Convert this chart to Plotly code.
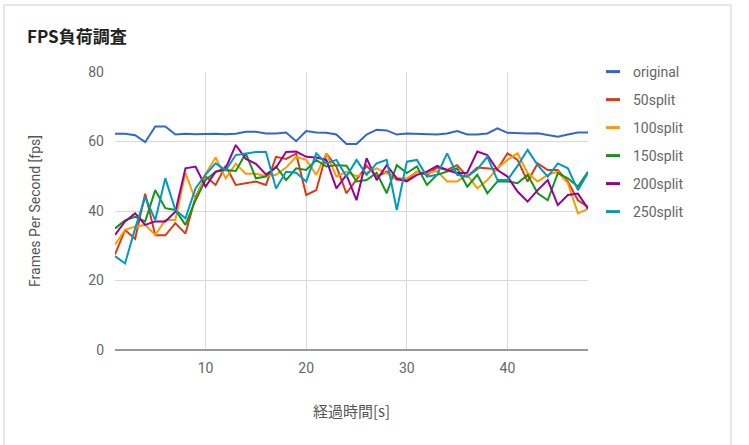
import plotly.graph_objects as go

W, H = 749, 445
ML, MR, MT, MB = 115, 161, 72, 95

x_seconds = list(range(1, 49))

original = [62.2, 62.2, 61.8, 59.8, 64.3, 64.3, 62.0, 62.2, 62.1, 62.2, 62.2, 62.1,
            62.2, 62.8, 62.8, 62.3, 62.3, 62.6, 60.1, 63.0, 62.6, 62.5, 62.0, 59.3,
            59.3, 62.0, 63.4, 63.2, 62.0, 62.3, 62.2, 62.0, 62.0, 62.3, 63.0, 62.0,
            62.0, 62.3, 63.8, 62.5, 62.3, 62.3, 62.4, 62.0, 61.4, 62.0, 62.6, 62.6]
split50 = [27.5, 34.5, 32.0, 45.0, 33.0, 33.0, 36.5, 33.5, 44.0, 50.0, 47.5, 53.0,
           47.5, 48.0, 48.5, 47.5, 55.6, 55.0, 56.5, 44.6, 46.0, 56.5, 52.8, 45.1,
           49.0, 53.0, 49.9, 51.3, 49.0, 48.9, 51.3, 50.4, 52.5, 51.8, 53.2, 49.9,
           52.5, 52.3, 52.0, 56.6, 54.7, 48.5, 53.7, 51.8, 51.8, 48.5, 43.1, 41.2]
split100 = [30.3, 34.6, 35.5, 36.0, 33.1, 37.4, 37.4, 51.0, 43.1, 50.7, 55.4, 49.4,
            53.6, 50.7, 50.7, 50.0, 50.4, 52.5, 55.6, 54.7, 50.4, 56.6, 49.9, 51.3,
            50.0, 51.0, 52.3, 50.9, 49.4, 49.4, 51.3, 50.9, 51.5, 48.5, 48.5, 50.4,
            46.5, 48.9, 52.3, 54.7, 56.6, 50.9, 48.5, 50.4, 51.3, 48.0, 39.3, 40.7]
split150 = [35.0, 37.3, 38.3, 37.0, 46.0, 40.8, 40.3, 36.0, 43.1, 48.9, 51.3, 51.8,
            51.5, 56.6, 49.4, 49.9, 52.8, 48.9, 52.3, 51.8, 54.7, 52.8, 53.2, 53.0,
            48.5, 48.9, 51.0, 45.1, 53.2, 50.9, 52.8, 47.5, 50.4, 51.3, 52.3, 47.0,
            50.4, 45.1, 48.5, 48.5, 48.0, 50.4, 45.1, 43.1, 50.9, 49.4, 47.0, 51.3]
split200 = [33.1, 37.0, 39.3, 36.0, 37.0, 37.0, 39.8, 52.3, 52.8, 47.0, 51.3, 52.3,
            59.0, 55.0, 53.6, 50.5, 52.5, 57.0, 57.1, 55.6, 55.4, 54.7, 46.5, 50.4,
            43.1, 55.2, 48.9, 53.2, 49.4, 48.5, 50.4, 51.3, 53.0, 51.8, 50.9, 51.0,
            57.1, 56.1, 51.8, 49.9, 45.6, 42.7, 46.0, 48.9, 41.7, 44.6, 45.0, 40.7]
split250 = [27.0, 24.9, 35.0, 44.0, 37.4, 49.4, 40.3, 37.9, 46.5, 50.5, 53.7, 51.8,
            56.1, 56.6, 57.0, 57.0, 46.5, 51.3, 51.0, 48.5, 56.6, 53.7, 54.7, 49.9,
            54.7, 50.4, 53.7, 54.7, 40.3, 54.2, 54.7, 49.9, 50.4, 56.6, 50.4, 49.9,
            52.0, 55.6, 48.9, 48.9, 53.0, 57.6, 53.2, 49.9, 53.7, 52.3, 46.0, 51.0]

series_names = ["original", "50split", "100split", "150split", "200split", "250split"]
series_values = [original, split50, split100, split150, split200, split250]
colors = ["#3366cc", "#dc3912", "#ff9900", "#109618", "#990099", "#0099c6"]

y_ticks = [0, 20, 40, 60, 80]
x_ticks = [10, 20, 30, 40]

fig = go.Figure()
for name, vals, c in zip(series_names, series_values, colors):
    fig.add_trace(go.Scatter(x=x_seconds, y=vals, mode="lines", name=name,
                             line=dict(color=c, width=2), showlegend=False))
# legend entries with short dash markers
for name, c in zip(series_names, colors):
    fig.add_trace(go.Scatter(x=[None], y=[None], mode="markers", name=name,
                             legendgroup=name,
                             marker=dict(symbol="line-ew", size=10,
                                         line=dict(color=c, width=3))))

pw = W - ML - MR
ph = H - MT - MB
def px(xp):
    return (xp - ML) / pw
def py(yp):
    return (H - MB - yp) / ph

fig.add_shape(type="rect", xref="paper", yref="paper",
              x0=px(4), x1=px(731), y0=py(448), y1=py(5),
              line=dict(color="#d0d0d0", width=1), fillcolor="rgba(0,0,0,0)", layer="below")

font_main = "Roboto, 'Noto Sans CJK JP', sans-serif"
fig.update_layout(
    width=W, height=H,
    margin=dict(l=ML, r=MR, t=MT, b=MB),
    paper_bgcolor="white", plot_bgcolor="white",
    font=dict(family=font_main, color="#666666", size=13),
    title=dict(text="<b>FPS負荷調査</b>", xref="container", yref="container",
               x=27 / W, xanchor="left", y=1 - 37 / H, yanchor="middle",
               font=dict(family="'Noto Sans CJK JP', sans-serif", size=17, color="#222222")),
    xaxis=dict(range=[1, 48], tickvals=x_ticks, showgrid=True, gridcolor="#d9d9d9",
               zeroline=False, showline=False, ticks="", ticklabelstandoff=8,
               title=dict(text="経過時間[s]", standoff=31,
                          font=dict(family="'Noto Sans CJK JP', sans-serif", size=15, color="#555555")),
               tickfont=dict(size=14, color="#666666")),
    yaxis=dict(range=[0, 80], tickvals=y_ticks, showgrid=True, gridcolor="#d9d9d9",
               zeroline=True, zerolinecolor="#999999", zerolinewidth=2,
               showline=False, ticks="", ticklabelstandoff=10,
               title=dict(text="Frames Per Second [fps]", standoff=44,
                          font=dict(size=14, color="#555555")),
               tickfont=dict(size=14, color="#666666")),
    legend=dict(x=px(593), xanchor="left", y=py(56), yanchor="top",
                traceorder="grouped", tracegroupgap=6.8,
                font=dict(size=14, color="#666666"), itemwidth=30,
                bgcolor="rgba(0,0,0,0)"),
)

fig.write_html("out.html")
